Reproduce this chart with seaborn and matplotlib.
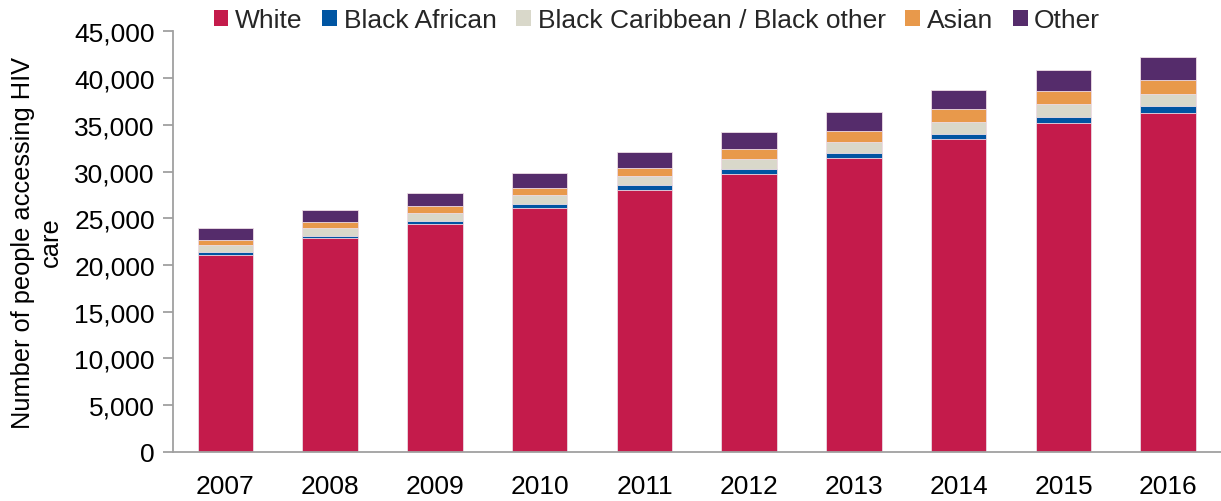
import numpy as np
import pandas as pd
import matplotlib
matplotlib.use("Agg")
import matplotlib.pyplot as plt
import seaborn as sns
from matplotlib.patches import Patch

years = ["2007", "2008", "2009", "2010", "2011", "2012", "2013", "2014", "2015", "2016"]
white = [21060, 22850, 24350, 26060, 28050, 29770, 31450, 33450, 35230, 36270]
black_african = [320, 280, 350, 460, 470, 500, 570, 600, 640, 710]
black_caribbean = [780, 860, 890, 960, 1000, 1100, 1180, 1290, 1330, 1320]
asian = [500, 610, 690, 780, 890, 1010, 1180, 1330, 1460, 1530]
other = [1250, 1320, 1420, 1610, 1710, 1850, 1970, 2100, 2250, 2400]

series_names = ["White", "Black African", "Black Caribbean / Black other", "Asian", "Other"]
series_values = [white, black_african, black_caribbean, asian, other]
colors = ["#C41B4B", "#0055A2", "#D9D8CA", "#E8994B", "#552C6B"]

sns.set_theme(style="white")
plt.rcParams["font.family"] = ["Liberation Sans", "DejaVu Sans"]

fig = plt.figure(figsize=(12.21, 5.02), dpi=100)
ax = fig.add_axes([0.1417, 0.098, 0.858, 0.8375])

cum = np.cumsum(np.array(series_values, dtype=float), axis=0)
df = pd.DataFrame({"year": years})
# draw from the top layer down so each lower layer overdraws the upper totals
for i in range(len(series_names) - 1, -1, -1):
    df["val"] = cum[i]
    sns.barplot(data=df, x="year", y="val", color=colors[i], saturation=1,
                width=0.53, edgecolor="#EEDDE6", linewidth=0.6, ax=ax, errorbar=None)

ax.set_ylim(0, 45000)
ax.set_xlim(-0.5, 9.5)
ax.set_yticks(np.arange(0, 45001, 5000))
ax.set_yticklabels([f"{v:,}" for v in range(0, 45001, 5000)])
ax.set_xticks(range(len(years)))
ax.set_xticklabels(years)
ax.set_xticks(np.arange(-0.5, 10, 1), minor=True)
ax.tick_params(axis="x", which="major", length=0, labelsize=19, pad=16, colors="black")
ax.tick_params(axis="x", which="minor", length=7, width=1.3, color="#A0A0A0", direction="out")
ax.tick_params(axis="y", length=7, width=1.3, color="#A0A0A0", direction="out", labelsize=19,
               pad=6, left=True, labelcolor="black")
ax.set_xlabel("")
ax.set_ylabel("Number of people accessing HIV\ncare", fontsize=18.3, color="black", labelpad=8)

for s in ["top", "right"]:
    ax.spines[s].set_visible(False)
for s in ["left", "bottom"]:
    ax.spines[s].set_color("#A0A0A0")
    ax.spines[s].set_linewidth(1.3)

handles = [Patch(facecolor=c, edgecolor="none", label=n) for c, n in zip(colors, series_names)]
fig.legend(handles=handles, loc="center", bbox_to_anchor=(0.538, 0.958), ncol=5, frameon=False,
           fontsize=19, handlelength=0.56, handleheight=0.56, handletextpad=0.25, columnspacing=0.75,
           borderaxespad=0)

fig.savefig("out.png", dpi=100)
